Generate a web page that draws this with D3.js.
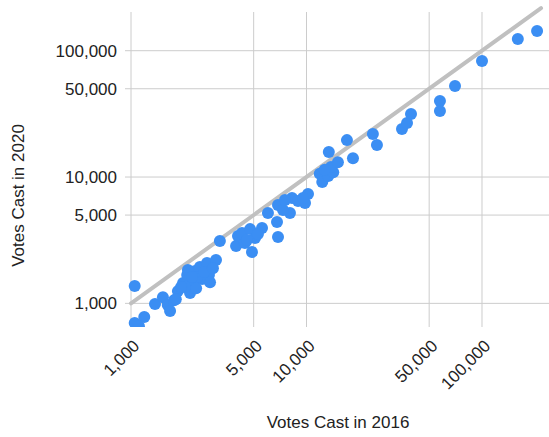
<!DOCTYPE html>
<html>
<head>
<meta charset="utf-8">
<script src="https://cdn.jsdelivr.net/npm/d3@7"></script>
<style>
  html, body { margin: 0; padding: 0; background: #fff; }
  svg { display: block; }
  text { font-family: "Liberation Sans", Arial, sans-serif; fill: #222; }
</style>
</head>
<body>
<svg id="chart" width="549" height="437"></svg>
<script>
// Votes cast per county, 2016 vs 2020
const votes2016 = [
  1050, 1050, 1190, 1110, 1370, 1520, 1620, 1760, 1670, 1850,
  1980, 2090, 2170, 2250, 2320, 2470, 2540, 2710, 2780, 2820,
  3050, 3210, 1800, 2110, 3970, 4070, 4290, 4770, 4890, 5090,
  5580, 6030, 6790, 6880, 6880, 8050, 8270, 8950, 9810, 10200,
  9550, 11900, 12300, 13300, 14200, 13400, 13800, 15100, 17000, 18400,
  23900, 25200, 35000, 37400, 39400, 57600, 57600, 70200, 100000, 160000,
  206000, 2030, 2380, 4460, 5290, 7350, 12700, 1930, 2350, 2610,
  2930, 2230, 4580, 7540
];
const votes2020 = [
  1370, 700, 780, 660, 990, 1120, 970, 1060, 870, 1250,
  1450, 1680, 1210, 1450, 1800, 1940, 1560, 2090, 1680, 1470,
  2200, 3110, 1080, 1840, 2840, 3410, 3600, 3870, 2550, 3290,
  3950, 5190, 4400, 3350, 6000, 5190, 6820, 6460, 6220, 7340,
  6820, 10600, 9130, 10200, 10900, 15800, 12000, 13100, 19600, 14100,
  21900, 17900, 24000, 26800, 31500, 40000, 33300, 52600, 82900, 124000,
  143000, 1350, 1610, 3000, 3540, 5480, 11400, 1350, 1320, 1770,
  1900, 1620, 3170, 6580
];

// Reference line where 2020 turnout equals 2016 turnout
const parityLine = [1000, 217000];

const xTicks = [1000, 5000, 10000, 50000, 100000];
const yTicks = [1000, 5000, 10000, 50000, 100000];

const xTitle = "Votes Cast in 2016";
const yTitle = "Votes Cast in 2020";

const plot = { left: 131, right: 549, top: 12, bottom: 327 };

const svg = d3.select("#chart");

const x = d3.scaleLog().domain([1000, 240900]).range([plot.left, plot.right]);
const y = d3.scaleLog().domain([650, 202500]).range([plot.bottom, plot.top]);

const fmt = d3.format(",");

// grid
const grid = svg.append("g");
grid.selectAll("line.vx")
  .data(xTicks).join("line")
  .attr("x1", d => x(d)).attr("x2", d => x(d))
  .attr("y1", plot.top).attr("y2", plot.bottom)
  .attr("stroke", "#cccccc").attr("stroke-width", 1);
grid.selectAll("line.hy")
  .data(yTicks).join("line")
  .attr("x1", plot.left - 6).attr("x2", plot.right)
  .attr("y1", d => y(d)).attr("y2", d => y(d))
  .attr("stroke", "#cccccc").attr("stroke-width", 1);

// y tick labels
svg.append("g").selectAll("text")
  .data(yTicks).join("text")
  .attr("x", plot.left - 14)
  .attr("y", d => y(d))
  .attr("dy", "0.35em")
  .attr("text-anchor", "end")
  .attr("font-size", 17)
  .text(d => fmt(d));

// x tick labels, slanted
svg.append("g").selectAll("text")
  .data(xTicks).join("text")
  .attr("text-anchor", "end")
  .attr("font-size", 17)
  .attr("transform", d => `translate(${x(d) + 9.5},347) rotate(-45)`)
  .text(d => fmt(d));

// axis titles
svg.append("text")
  .attr("x", 338).attr("y", 428)
  .attr("text-anchor", "middle")
  .attr("font-size", 17)
  .text(xTitle);
svg.append("text")
  .attr("text-anchor", "middle")
  .attr("font-size", 17)
  .attr("transform", "translate(24,195.5) rotate(-90)")
  .text(yTitle);

// clip for marks
svg.append("defs").append("clipPath").attr("id", "plotClip")
  .append("rect")
  .attr("x", plot.left - 8).attr("y", 0)
  .attr("width", plot.right - plot.left + 8).attr("height", plot.bottom);

const marks = svg.append("g").attr("clip-path", "url(#plotClip)");

marks.append("line")
  .attr("x1", x(parityLine[0])).attr("y1", y(parityLine[0]))
  .attr("x2", x(parityLine[1])).attr("y2", y(parityLine[1]))
  .attr("stroke", "#c0c0c0")
  .attr("stroke-width", 4)
  .attr("stroke-linecap", "round");

marks.selectAll("circle")
  .data(votes2016.map((v, i) => [v, votes2020[i]]))
  .join("circle")
  .attr("cx", d => x(d[0]))
  .attr("cy", d => y(d[1]))
  .attr("r", 6)
  .attr("fill", "#3b8ef3");
</script>
</body>
</html>
